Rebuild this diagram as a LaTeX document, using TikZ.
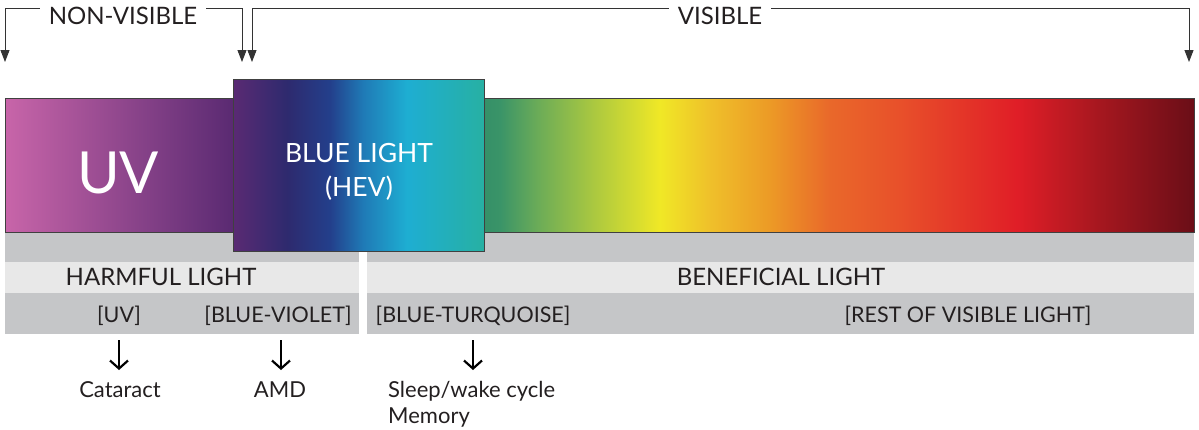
\documentclass[tikz,border=0pt]{standalone}
\usepackage{fontspec}
\setmainfont{Lato}
\usetikzlibrary{arrows.meta}
\definecolor{uvA}{HTML}{C865A9}
\definecolor{uvB}{HTML}{5A2A72}
\definecolor{bandDark}{HTML}{C5C6C8}
\definecolor{bandLight}{HTML}{E8E8E8}
\definecolor{txt}{HTML}{231F20}
\definecolor{bl1}{HTML}{5A2A73}
\definecolor{bl2}{HTML}{2E2A6E}
\definecolor{bl3}{HTML}{233F8B}
\definecolor{bl4}{HTML}{1F7AB6}
\definecolor{bl5}{HTML}{1EAED2}
\definecolor{bl6}{HTML}{27B0A3}
\definecolor{sp1}{HTML}{359068}
\definecolor{sp2}{HTML}{3A9468}
\definecolor{sp3}{HTML}{6AAB58}
\definecolor{sp4}{HTML}{B5CD3C}
\definecolor{sp5}{HTML}{F0E826}
\definecolor{sp6}{HTML}{EFC02A}
\definecolor{sp7}{HTML}{EC9A26}
\definecolor{sp8}{HTML}{E9682A}
\definecolor{sp9}{HTML}{E8502A}
\definecolor{sp10}{HTML}{E01E27}
\definecolor{sp11}{HTML}{A5171F}
\definecolor{sp12}{HTML}{6A0E17}
\pgfdeclarehorizontalshading{blueshade}{100bp}{color(0bp)=(bl1); color(25bp)=(bl1);
  color(35.76bp)=(bl2); color(44.32bp)=(bl3); color(50.9bp)=(bl4);
  color(59.66bp)=(bl5); color(75bp)=(bl6); color(100bp)=(bl6)}
\pgfdeclarehorizontalshading{specshade}{100bp}{color(0bp)=(sp1); color(25bp)=(sp1);
  color(26.13bp)=(sp2); color(28.73bp)=(sp3); color(33.38bp)=(sp4);
  color(37.39bp)=(sp5); color(40.92bp)=(sp6); color(45.14bp)=(sp7);
  color(49.37bp)=(sp8); color(54.3bp)=(sp9); color(62.54bp)=(sp10);
  color(68.38bp)=(sp11); color(75bp)=(sp12); color(100bp)=(sp12)}
\tikzset{
  bracket/.style={draw=black!80, line width=0.9pt, -{Triangle[width=9pt,length=12pt]}},
  barline/.style={draw=black!75, line width=1pt},
  toplbl/.style={text=txt, font=\fontsize{24}{28}\selectfont, inner xsep=9pt, inner ysep=0pt},
  bandlbl/.style={text=txt, font=\fontsize{24}{28}\selectfont, inner sep=0pt},
  rangelbl/.style={text=txt, font=\fontsize{21.5}{24}\selectfont, inner sep=0pt},
  effectlbl/.style={text=txt, font=\fontsize{22}{26}\selectfont, inner sep=0pt, anchor=base},
  downarrow/.style={draw=black, line width=2.2pt, -{Straight Barb[length=8pt,width=18pt]}}
}
\begin{document}
\begin{tikzpicture}[x=1pt,y=-1pt]
  \useasboundingbox (0,0) rectangle (1199,429);
  % top brackets
  \coordinate (top) at (0,8);
  \coordinate (nvL) at (5,62);
  \coordinate (nvR) at (242,62);
  \coordinate (vL) at (252,62);
  \coordinate (vR) at (1189,62);
  \node[toplbl] (nonvis) at (123,16) {NON-VISIBLE};
  \node[toplbl] (vis) at (720,16) {VISIBLE};
  \draw[bracket] (nonvis.west |- top) -| (nvL);
  \draw[bracket] (nonvis.east |- top) -| (nvR);
  \draw[bracket] (vis.west |- top) -| (vL);
  \draw[bracket] (vis.east |- top) -| (vR);
  % gray bands
  \fill[bandDark] (5,232) rectangle (359,334);
  \fill[bandLight] (5,262) rectangle (359,293);
  \fill[bandDark] (367,232) rectangle (1194,334);
  \fill[bandLight] (367,262) rectangle (1194,293);
  % spectrum bar
  \shade[left color=uvA, right color=uvB] (5,98) rectangle (233,232);
  \shade[shading=specshade] (484,98) rectangle (1194,232);
  \draw[barline] (5,98) rectangle (1194,232);
  \node[text=white, font=\fontsize{58}{58}\selectfont, inner sep=0pt] (uv) at (118,173) {UV};
  % blue light box
  \shade[shading=blueshade] (233,79) rectangle (484,251);
  \draw[barline] (233,79) rectangle (484,251);
  \node[text=white, font=\fontsize{26.5}{34}\selectfont, align=center, inner sep=0pt] (blue) at (359,172) {BLUE LIGHT\\(HEV)};
  % band labels
  \node[bandlbl] (harm) at (161,277) {HARMFUL LIGHT};
  \node[bandlbl] (bene) at (781,277) {BENEFICIAL LIGHT};
  \node[rangelbl] (ruv) at (119,316) {[UV]};
  \node[rangelbl] (rbv) at (278,316) {[BLUE-VIOLET]};
  \node[rangelbl] (rbt) at (473,316) {[BLUE-TURQUOISE]};
  \node[rangelbl] (rrest) at (968,316) {[REST OF VISIBLE LIGHT]};
  % effects
  \node[effectlbl] (cat) at (120,397) {Cataract};
  \node[effectlbl] (amd) at (280,397) {AMD};
  \node[effectlbl, anchor=base west] (sleep) at (388,397) {Sleep/wake cycle};
  \node[effectlbl, anchor=base west] (memory) at (388,423) {Memory};
  \draw[downarrow] (119,340) -- (119,370);
  \draw[downarrow] (281,340) -- (281,370);
  \draw[downarrow] (473,340) -- (473,370);
\end{tikzpicture}
\end{document}
